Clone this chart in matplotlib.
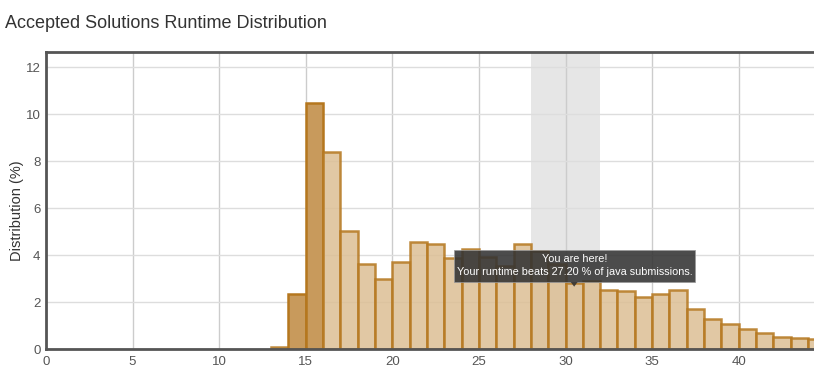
import numpy as np
import matplotlib.pyplot as plt
from matplotlib.patches import FancyBboxPatch

plt.rcParams['font.family'] = ['Liberation Sans', 'DejaVu Sans']

# runtime bins (ms), left edges, and share of submissions (%)
runtime_ms = [13, 14, 15, 16, 17, 18, 19, 20, 21, 22, 23, 24, 25, 26, 27, 28,
              29, 30, 31, 32, 33, 34, 35, 36, 37, 38, 39, 40, 41, 42, 43, 44]
distribution = [0.1, 2.33, 10.48, 8.37, 5.03, 3.63, 2.99, 3.71, 4.57, 4.47, 3.89, 4.26,
                3.9, 3.53, 4.47, 4.18, 3.6, 2.8, 2.91, 2.51, 2.45, 2.21, 2.34, 2.5,
                1.69, 1.29, 1.06, 0.84, 0.69, 0.52, 0.45, 0.41]
highlight_ms = [14, 15]          # darker bars
your_range = (28, 32)            # grey band around your runtime
tooltip_lines = ["You are here!", "Your runtime beats 27.20 % of java submissions."]

fig = plt.figure(figsize=(8.14, 3.73), dpi=100, facecolor='white')
ax = fig.add_axes([46/814, 24/373, (814-46)/814, (349-52)/373])

ax.axvspan(your_range[0], your_range[1], color='#e6e6e6', zorder=0, lw=0)

for x, v in zip(runtime_ms, distribution):
    fc = '#c89a5c' if x in highlight_ms else '#dcbf94'
    ax.bar(x, v, width=1, align='edge', color=fc, alpha=0.85 if x not in highlight_ms else 1,
           edgecolor='#b5771e', linewidth=1.8, zorder=2)

ax.set_xlim(0, 44.35)
ax.set_ylim(0, 12.64)
ax.set_xticks(np.arange(0, 45, 5))
ax.set_yticks(np.arange(0, 13, 2))
ax.grid(True, axis='y', color='#dddddd', lw=1, zorder=1)
ax.grid(True, axis='x', color='#cccccc', lw=1, zorder=1)
ax.set_axisbelow(True)

for s in ['top', 'left', 'bottom']:
    ax.spines[s].set_color('#555555')
    ax.spines[s].set_linewidth(2)
ax.spines['right'].set_visible(False)
ax.tick_params(length=0, labelsize=9.5, colors='#555555', pad=5)
ax.tick_params(axis='y', pad=4)
ax.set_ylabel('Distribution (%)', fontsize=10.5, color='#333333')
ax.yaxis.set_label_coords(-22/768, 0.465)

fig.text(5/814, 1 - 24/373, 'Accepted Solutions Runtime Distribution', fontsize=13,
         color='#333333', va='center', ha='left')

# tooltip
tx0, tx1 = (454-46)/17.32, (695-46)/17.32
ty0, ty1 = (349-282)/23.5, (349-250)/23.5
box = FancyBboxPatch((tx0, ty0), tx1-tx0, ty1-ty0, boxstyle='square,pad=0',
                     fc='#333333', ec='#999999', lw=0.6, alpha=0.88, zorder=5)
ax.add_patch(box)
tc = (tx0 + tx1) / 2
ax.fill([30.3, 30.7, 30.5], [ty0, ty0, ty0 - 0.2], color='#333333', alpha=0.88, zorder=5, lw=0)
ax.text(tc, ty0 + (ty1-ty0)*0.72, tooltip_lines[0], color='white', fontsize=7.8,
        ha='center', va='center', zorder=6)
ax.text(tc, ty0 + (ty1-ty0)*0.32, tooltip_lines[1], color='white', fontsize=7.8,
        ha='center', va='center', zorder=6)

fig.savefig('out.png', dpi=100)
